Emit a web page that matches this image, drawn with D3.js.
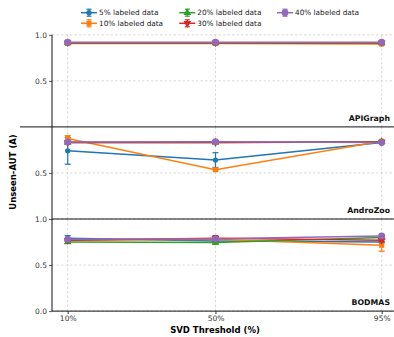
<!DOCTYPE html>
<html><head><meta charset="utf-8">
<script src="https://cdn.jsdelivr.net/npm/d3@7"></script>
<style>body{margin:0;background:#fff}svg{display:block;font-family:"DejaVu Sans",sans-serif}</style>
</head><body><svg id="c" width="394" height="337"></svg>
<script>
const thresholds = [10, 50, 95];
const xTickLabels = ["10%", "50%", "95%"];
const seriesNames = ["5% labeled data", "10% labeled data", "20% labeled data", "30% labeled data", "40% labeled data"];
const colors = ["#1f77b4", "#ff7f0e", "#2ca02c", "#d62728", "#9467bd"];
const markers = ["circle", "square", "triangle", "triangleDown", "bigCircle"];
const datasets = ["APIGraph", "AndroZoo", "BODMAS"];
// values[dataset][series] at thresholds
const apigraphVals = [[0.91, 0.91, 0.91], [0.905, 0.905, 0.90], [0.91, 0.91, 0.91], [0.915, 0.915, 0.915], [0.92, 0.92, 0.92]];
const apigraphErr  = [[0.01, 0.01, 0.01], [0.01, 0.01, 0.01], [0.01, 0.01, 0.01], [0.005, 0.005, 0.005], [0.005, 0.005, 0.005]];
const androzooVals = [[0.74, 0.64, 0.83], [0.875, 0.535, 0.845], [0.83, 0.83, 0.84], [0.83, 0.83, 0.835], [0.835, 0.84, 0.83]];
const androzooErr  = [[0.145, 0.08, 0.01], [0.03, 0.01, 0.015], [0.01, 0.01, 0.01], [0.01, 0.01, 0.01], [0.01, 0.01, 0.01]];
const bodmasVals   = [[0.79, 0.76, 0.75], [0.77, 0.78, 0.715], [0.75, 0.745, 0.80], [0.77, 0.79, 0.77], [0.78, 0.785, 0.816]];
const bodmasErr    = [[0.03, 0.01, 0.01], [0.01, 0.02, 0.065], [0.015, 0.02, 0.01], [0.01, 0.03, 0.015], [0.01, 0.01, 0.01]];
const yTickSets = [[0.5, 1.0], [0.5], [0.0, 0.5, 1.0]];
const allVals = [apigraphVals, androzooVals, bodmasVals];
const allErr = [apigraphErr, androzooErr, bodmasErr];

const svg = d3.select("#c");
const left = 52, right = 397.4, top0 = 34.8, ph = 92.1;
const x = d3.scaleLinear().domain([5.75, 99.25]).range([left, right]);

function drawMarker(g, type, cx, cy, color) {
  const sym = {circle: [d3.symbolCircle, 22], square: [d3.symbolSquare, 26], triangle: [d3.symbolTriangle, 26],
    triangleDown: [d3.symbolTriangle, 26], bigCircle: [d3.symbolCircle, 36]}[type];
  g.append("path").attr("d", d3.symbol().type(sym[0]).size(sym[1])())
    .attr("transform", `translate(${cx},${cy})` + (type === "triangleDown" ? " rotate(180)" : ""))
    .attr("fill", color);
}

datasets.forEach((name, p) => {
  const y0 = top0 + p * ph;
  const y = d3.scaleLinear().domain([0, 1]).range([y0 + ph, y0]);
  const g = svg.append("g");
  // grid
  thresholds.forEach(t => g.append("line").attr("x1", x(t)).attr("x2", x(t)).attr("y1", y0).attr("y2", y0 + ph)
    .attr("stroke", "#d0d0d0").attr("stroke-width", 0.8).attr("stroke-dasharray", "2.5,2"));
  yTickSets[p].forEach(v => g.append("line").attr("x1", left).attr("x2", 394).attr("y1", y(v)).attr("y2", y(v))
    .attr("stroke", "#d0d0d0").attr("stroke-width", 0.8).attr("stroke-dasharray", "2.5,2"));
  // y axis ticks
  const ax = d3.axisLeft(y).tickValues(yTickSets[p]).tickFormat(d3.format(".1f")).tickSize(3).tickPadding(2);
  const ag = g.append("g").attr("transform", `translate(${left},0)`).call(ax);
  ag.select(".domain").remove();
  ag.selectAll("text").attr("font-size", 7.5).attr("fill", "#333").attr("font-family", "DejaVu Sans");
  ag.selectAll("line").attr("stroke", "#333").attr("stroke-width", 0.8);
  // series
  const line = d3.line().x((d, i) => x(thresholds[i])).y(d => y(d));
  allVals[p].forEach((vals, s) => {
    const sg = g.append("g");
    sg.append("path").datum(vals).attr("d", line).attr("fill", "none").attr("stroke", colors[s]).attr("stroke-width", 1.5);
    vals.forEach((v, i) => {
      const e = allErr[p][s][i], cx = x(thresholds[i]);
      const yt = Math.max(y(v + e), y0), yb = y(v - e);
      sg.append("line").attr("x1", cx).attr("x2", cx).attr("y1", yt).attr("y2", yb).attr("stroke", colors[s]).attr("stroke-width", 1.2);
      [yt, yb].forEach(yy => { if (yy > y0) sg.append("line").attr("x1", cx - 3).attr("x2", cx + 3).attr("y1", yy).attr("y2", yy).attr("stroke", colors[s]).attr("stroke-width", 1.2); });
      drawMarker(sg, markers[s], cx, y(v), colors[s]);
    });
  });
  // panel label
  g.append("text").attr("x", 390).attr("y", y0 + ph - 6).attr("text-anchor", "end").attr("font-size", 7.8)
    .attr("font-weight", "bold").attr("fill", "#111").text(name);
  // spines
  g.append("line").attr("x1", left).attr("x2", left).attr("y1", y0).attr("y2", y0 + ph).attr("stroke", "#111").attr("stroke-width", 1);
  if (p > 0) g.append("line").attr("x1", p === 1 ? 20 : left).attr("x2", 394).attr("y1", y0).attr("y2", y0).attr("stroke", "#111").attr("stroke-width", 1);
});
// bottom spine and x ticks
const yb = top0 + 3 * ph;
svg.append("line").attr("x1", left).attr("x2", 394).attr("y1", yb).attr("y2", yb).attr("stroke", "#111").attr("stroke-width", 1);
const xa = d3.axisBottom(x).tickValues(thresholds).tickFormat((d, i) => xTickLabels[i]).tickSize(3).tickPadding(2);
const xg = svg.append("g").attr("transform", `translate(0,${yb})`).call(xa);
xg.select(".domain").remove();
xg.selectAll("text").attr("font-size", 7.5).attr("fill", "#333").attr("font-family", "DejaVu Sans");
xg.selectAll("line").attr("stroke", "#333");
// axis labels
svg.append("text").attr("x", 215).attr("y", 333).attr("text-anchor", "middle").attr("font-size", 8.5).attr("font-weight", "bold").text("SVD Threshold (%)");
svg.append("text").attr("transform", "translate(16,172) rotate(-90)").attr("text-anchor", "middle").attr("font-size", 8.5).attr("font-weight", "bold").text("Unseen-AUT (A)");
// legend
const legPos = [[89, 12.7], [89, 23.3], [187.3, 12.7], [187.3, 23.3], [285, 12.7]];
seriesNames.forEach((n, s) => {
  const [lx, ly] = legPos[s];
  const lg = svg.append("g");
  lg.append("line").attr("x1", lx - 8).attr("x2", lx + 8).attr("y1", ly).attr("y2", ly).attr("stroke", colors[s]).attr("stroke-width", 1.5);
  lg.append("line").attr("x1", lx).attr("x2", lx).attr("y1", ly - 3.5).attr("y2", ly + 3.5).attr("stroke", colors[s]).attr("stroke-width", 1.2);
  [ly - 3.5, ly + 3.5].forEach(yy => lg.append("line").attr("x1", lx - 2.5).attr("x2", lx + 2.5).attr("y1", yy).attr("y2", yy).attr("stroke", colors[s]).attr("stroke-width", 1.2));
  drawMarker(lg, markers[s], lx, ly, colors[s]);
  lg.append("text").attr("x", lx + 10).attr("y", ly + 2.7).attr("font-size", 7.3).attr("fill", "#222").text(n);
});
</script></body></html>
